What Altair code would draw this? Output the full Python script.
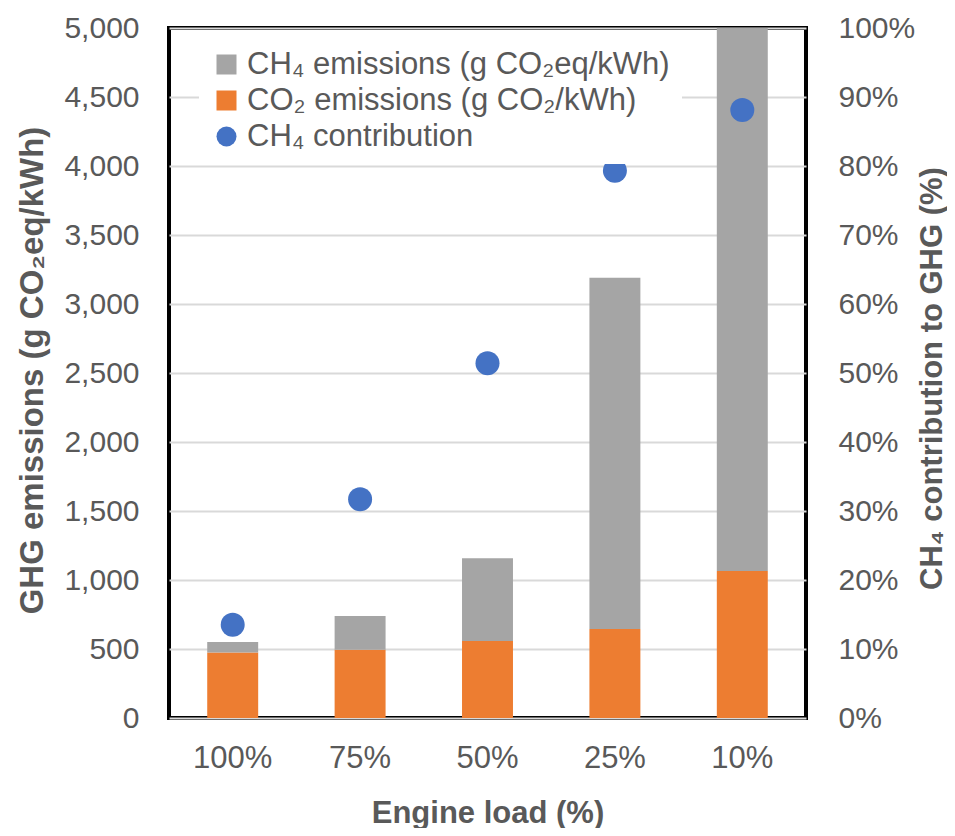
import altair as alt
import pandas as pd

# ---- data ----
loads = ["100%", "75%", "50%", "25%", "10%"]
co2_emissions = [475, 495, 558, 645, 1065]          # g CO2/kWh
ch4_emissions = [75, 245, 600, 2545, 7885]          # g CO2eq/kWh (last bar clipped at 5000)
ch4_contribution = [13.5, 31.7, 51.4, 79.3, 88.1]   # %

S_CH4 = "CH₄ emissions (g CO₂eq/kWh)"
S_CO2 = "CO₂ emissions (g CO₂/kWh)"
S_PT = "CH₄ contribution"

left_ticks = [0, 500, 1000, 1500, 2000, 2500, 3000, 3500, 4000, 4500, 5000]
right_ticks = [0, 10, 20, 30, 40, 50, 60, 70, 80, 90, 100]

bars = pd.DataFrame({
    "load": loads * 2,
    "series": [S_CO2] * len(loads) + [S_CH4] * len(loads),
    "value": co2_emissions + ch4_emissions,
    "ord": [0] * len(loads) + [1] * len(loads),
})
pts = pd.DataFrame({"load": loads, "series": [S_PT] * len(loads), "pct": ch4_contribution})

FONT = "Liberation Sans"
GREY = "#595959"

color = alt.Color(
    "series:N",
    scale=alt.Scale(domain=[S_CH4, S_CO2, S_PT], range=["#a5a5a5", "#ed7d31", "#4472c4"]),
    legend=alt.Legend(
        title=None, orient="none", legendX=30, legendY=9,
        fillColor="white", padding=12,
        labelFont=FONT, labelFontSize=31, labelColor=GREY, labelLimit=700, labelOffset=5,
        symbolSize=400, symbolOpacity=1, symbolStrokeWidth=0,
        symbolType={"expr": "datum.value === '" + S_PT + "' ? 'circle' : 'square'"},
        rowPadding=4,
    ),
)

x = alt.X(
    "load:N", sort=loads,
    scale=alt.Scale(paddingInner=0.6, paddingOuter=0.3),
    axis=alt.Axis(
        title="Engine load (%)", labelAngle=0, labelFontSize=31, labelColor=GREY, labelFont=FONT,
        labelPadding=25, ticks=False, domain=False,
        titleFont=FONT, titleFontSize=31, titleFontWeight="bold", titleColor=GREY,
        titleX=318.5, titleY=95, titleBaseline="middle", titleAlign="center",
    ),
)

bar = alt.Chart(bars).mark_bar(clip=True).encode(
    x=x,
    y=alt.Y(
        "value:Q", stack="zero",
        scale=alt.Scale(domain=[0, 5000], nice=False, zero=True),
        axis=alt.Axis(
            title="GHG emissions (g CO₂eq/kWh)", values=left_ticks, format=",.0f",
            grid=True, gridColor="#d9d9d9", gridWidth=2, domain=False, ticks=False,
            labelFont=FONT, labelFontSize=30, labelColor=GREY, labelPadding=30,
            titleFont=FONT, titleFontSize=33, titleFontWeight="bold", titleColor=GREY,
            titleAngle=-90, titleX=-137, titleY=342, titleAlign="center", titleBaseline="middle",
        ),
    ),
    color=color,
    order=alt.Order("ord:Q"),
)

point = alt.Chart(pts).mark_point(filled=True, size=576, opacity=1).encode(
    x=x,
    y=alt.Y(
        "pct:Q",
        scale=alt.Scale(domain=[0, 100], nice=False),
        axis=alt.Axis(
            orient="right", title="CH₄ contribution to GHG (%)", values=right_ticks,
            labelExpr="datum.value + '%'", grid=False, domain=False, ticks=False,
            labelFont=FONT, labelFontSize=30, labelColor=GREY, labelPadding=32,
            titleFont=FONT, titleFontSize=31, titleFontWeight="bold", titleColor=GREY,
            titleAngle=-90, titleX=126, titleY=350, titleAlign="center", titleBaseline="middle",
        ),
    ),
    color=color,
)

chart = (
    alt.layer(bar, point)
    .resolve_scale(y="independent")
    .properties(
        width=637, height=690,
        autosize=alt.AutoSizeParams(type="none"),
        padding={"left": 161, "top": 20, "right": 141, "bottom": 110},
    )
    .configure_view(stroke="black", strokeWidth=4)
)

chart.save("out.html", embed_options={"renderer": "svg", "actions": False})
